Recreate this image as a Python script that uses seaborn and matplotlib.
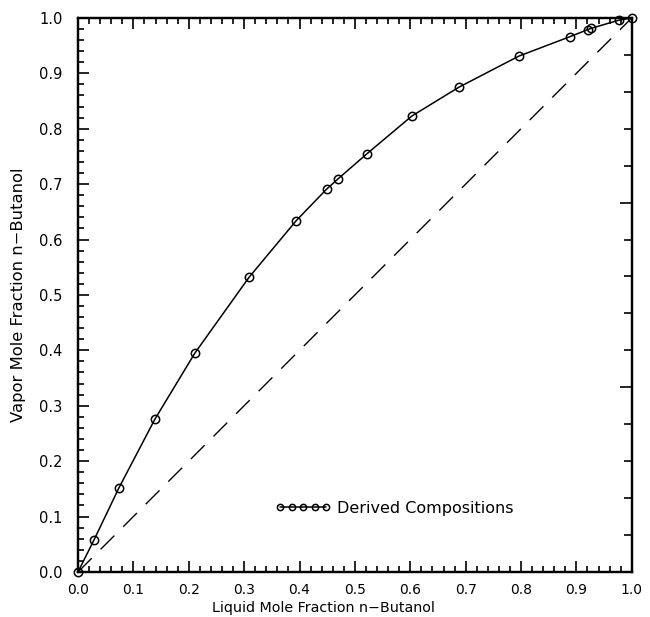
"""Vapor-liquid equilibrium x-y diagram for n-butanol."""
import matplotlib

matplotlib.use("Agg")
import matplotlib.pyplot as plt  # noqa: E402
import numpy as np  # noqa: E402
import pandas as pd  # noqa: E402
import seaborn as sns  # noqa: E402
from matplotlib.ticker import MultipleLocator, NullFormatter  # noqa: E402

# Derived compositions
liquid_x = [0.0, 0.029, 0.074, 0.139, 0.211, 0.309, 0.394, 0.449, 0.469,
            0.522, 0.603, 0.688, 0.796, 0.888, 0.921, 0.926, 0.977, 1.0]
vapor_y = [0.0, 0.058, 0.152, 0.276, 0.395, 0.532, 0.634, 0.691, 0.709,
           0.755, 0.823, 0.875, 0.931, 0.966, 0.979, 0.981, 0.996, 1.0]
diag = [0.0, 1.0]

ticks = np.round(np.arange(0, 1.01, 0.1), 1)

sns.set_style("ticks")
plt.rcParams["font.family"] = ["DejaVu Sans"]
plt.rcParams.update({"text.color": "black", "axes.labelcolor": "black",
                     "xtick.color": "black", "ytick.color": "black",
                     "axes.edgecolor": "black"})

df = pd.DataFrame({"x": liquid_x, "y": vapor_y})

fig = plt.figure(figsize=(6.5, 6.17), dpi=100)
ax = fig.add_axes([0.12, 0.073, 0.852, 0.898])

sns.lineplot(data=df, x="x", y="y", ax=ax, sort=False, color="black",
             lw=1.1, marker="o", markersize=6, markerfacecolor="none",
             markeredgecolor="black", markeredgewidth=1.1, clip_on=False,
             zorder=4, label="Derived Compositions")
ax.plot(diag, diag, color="black", lw=1.0, dashes=(14, 9))

ax.set_xlim(0, 1)
ax.set_ylim(0, 1)
ax.set_xticks(ticks)
ax.set_yticks(ticks)
ax.set_xticklabels([f"{t:.1f}" for t in ticks])
ax.set_yticklabels([f"{t:.1f}" for t in ticks])
ax.xaxis.set_minor_locator(MultipleLocator(0.02))
ax.yaxis.set_minor_locator(MultipleLocator(0.02))
ax.tick_params(which="both", direction="in", top=True, right=False,
               width=1.2)
ax.tick_params(which="major", length=8)
ax.tick_params(which="minor", length=4.5)
ax.tick_params(axis="x", labelsize=10, pad=8)
ax.tick_params(axis="y", labelsize=10.5, pad=11)
for s in ax.spines.values():
    s.set_linewidth(1.6)

# right-hand axis has its own tick spacing
ax2 = ax.twinx()
ax2.set_ylim(0, 1)
ax2.yaxis.set_major_locator(MultipleLocator(1 / 3))
ax2.yaxis.set_minor_locator(MultipleLocator(1 / 15))
ax2.yaxis.set_major_formatter(NullFormatter())
ax2.tick_params(which="both", direction="in", width=1.2)
ax2.tick_params(which="major", length=9)
ax2.tick_params(which="minor", length=5.5)
for s in ax2.spines.values():
    s.set_linewidth(1.6)

ax.set_xlabel("Liquid Mole Fraction n\u2212Butanol", fontsize=10.3)
ax.set_ylabel("Vapor Mole Fraction n\u2212Butanol", fontsize=11.8)
ax.xaxis.set_label_coords(0.444, -0.052)
ax.yaxis.set_label_coords(-0.094, 0.5)

ax.legend(loc="center left", bbox_to_anchor=(0.356, 0.115), frameon=False,
          numpoints=5, handlelength=3.5, handletextpad=0.35, fontsize=11.5,
          markerscale=0.75, borderaxespad=0, borderpad=0)

fig.savefig("out.png", dpi=100)
plt.close(fig)
